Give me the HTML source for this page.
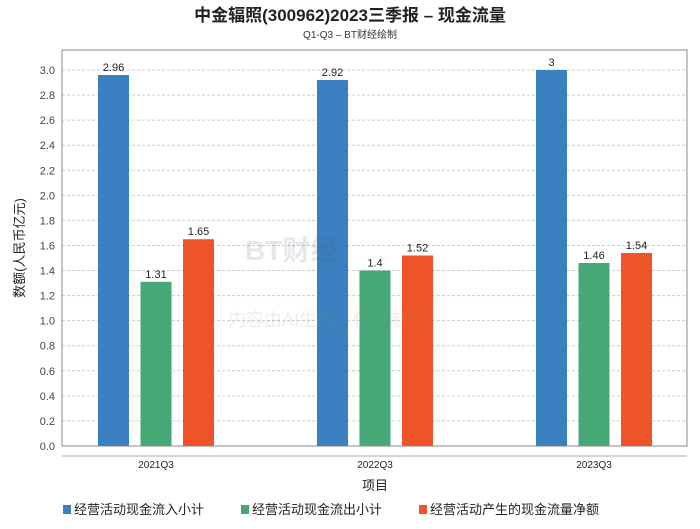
<!DOCTYPE html>
<html><head><meta charset="utf-8"><style>
body{margin:0;background:#fff;font-family:"Liberation Sans","Noto Sans CJK SC",sans-serif}
</style></head><body>
<svg id="c" width="700" height="524" xmlns="http://www.w3.org/2000/svg" font-family="Liberation Sans, Noto Sans CJK SC, sans-serif">
<text x="350" y="21" text-anchor="middle" font-size="17" font-weight="bold" fill="#222">中金辐照(300962)2023三季报 – 现金流量</text>
<text x="350" y="38" text-anchor="middle" font-size="10" fill="#333">Q1-Q3 – BT财经绘制</text>
<g id="grid"></g>
<rect x="62" y="50" width="625" height="396" fill="none" stroke="#888"/>
<g id="bars"></g>
<g id="wm" opacity="0.14">
<text x="245" y="260" font-size="28" font-weight="bold" fill="#557">BT财经</text>
<text x="228" y="326" font-size="18" fill="#888">内容由AI生成，仅供参考</text>
</g>
<line x1="62" y1="456" x2="687" y2="456" stroke="#aaa"/>
<text x="375" y="490" text-anchor="middle" font-size="13" fill="#222">项目</text>
<text transform="translate(24,248) rotate(-90)" text-anchor="middle" font-size="13" fill="#222">数额(人民币亿元)</text>
<g id="legend"></g>
</svg>
<script>
const categories=["2021Q3","2022Q3","2023Q3"];
const seriesNames=["经营活动现金流入小计","经营活动现金流出小计","经营活动产生的现金流量净额"];
const inflow=[2.96,2.92,3];
const outflow=[1.31,1.4,1.46];
const net=[1.65,1.52,1.54];
const yTicks=[0,0.2,0.4,0.6,0.8,1.0,1.2,1.4,1.6,1.8,2.0,2.2,2.4,2.6,2.8,3.0];
const colors=["#3a80c0","#45a876","#ef5428"];
const ns="http://www.w3.org/2000/svg";
const y=v=>446-v*125.33;
const x=i=>156+i*219;
function mk(t,a,p){const e=document.createElementNS(ns,t);for(const k in a)e.setAttribute(k,a[k]);p.appendChild(e);return e;}
const g=document.getElementById('grid');
yTicks.forEach(t=>{
  if(t>0){const l=mk('line',{x1:62,x2:687,y1:y(t),y2:y(t),stroke:'#ccc','stroke-dasharray':'3,2'},g);
  
  }
  const tx=mk('text',{x:55,y:y(t)+4,'text-anchor':'end','font-size':11,fill:'#444'},g);
  tx.textContent=t.toFixed(1);
  
  
});
const b=document.getElementById('bars');
[inflow,outflow,net].forEach((s,si)=>{
  s.forEach((v,i)=>{
    const cx=x(i)+(si-1)*42.5;
    const r=mk('rect',{x:cx-15.5,y:y(v),width:31,height:446-y(v),fill:colors[si]},b);
    
    
    const t=mk('text',{x:cx,y:y(v)-4,'text-anchor':'middle','font-size':11,fill:'#222'},b);
    t.textContent=String(v);
    
    
  });
});
categories.forEach((c,i)=>{
  const t=mk('text',{x:x(i),y:468,'text-anchor':'middle','font-size':10,fill:'#222'},b);
  t.textContent=c;
  
  
});
const lg=document.getElementById('legend');
const lx=[63,241,419];
seriesNames.forEach((n,i)=>{
  const r=mk('rect',{x:lx[i],y:505,width:8,height:9,fill:colors[i]},lg);
  
  
  const t=mk('text',{x:lx[i]+11,y:514,'font-size':13,fill:'#222'},lg);
  t.textContent=n;
  
  
});
</script>
</body></html>
